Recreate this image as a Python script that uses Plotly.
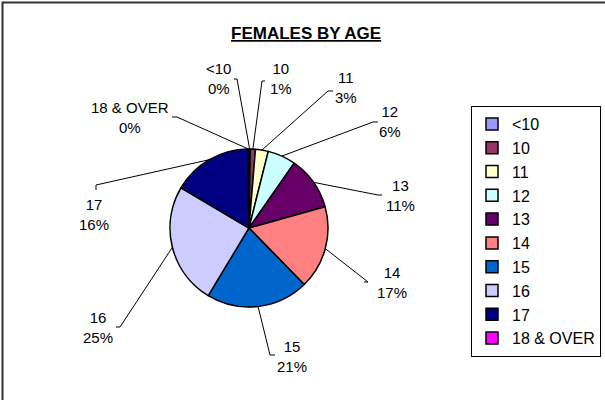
import math
import plotly.graph_objects as go

# ---- data ----
categories = ["<10", "10", "11", "12", "13", "14", "15", "16", "17", "18 & OVER"]
counts = [1, 4, 10, 22, 42, 65, 80, 95, 62, 1]
colors = ["#9999FF", "#993366", "#FFFFCC", "#CCFFFF", "#660066",
          "#FF8080", "#0066CC", "#CCCCFF", "#000080", "#FF00FF"]
title_text = "FEMALES BY AGE"

# ---- layout (pixels) ----
W, H = 605, 400
CX, CY, R = 249, 228, 79
FONT = "Liberation Sans, Arial, sans-serif"

# label text centers and leader elbow / tick points (pixels)
label_pos = [(218, 78), (281, 78), (346, 88), (390, 121), (400, 195),
             (392, 282), (292, 356), (98, 327), (94, 214), (130, 117)]
elbows = [((237, 79), (234, 79)), ((262, 81), (265, 81)), ((328, 91), (333, 91)),
          ((373, 122), (378, 122)), ((378, 195), (382, 195)), ((368, 282), (364, 282)),
          ((270, 355), (275, 355)), ((120, 327), (116, 327)), ((96, 185), (96, 190)),
          ((177, 117), (172, 117))]


def px(x):
    return x / W


def py(y):
    return 1 - y / H


fig = go.Figure()
fig.add_trace(go.Pie(
    labels=categories, values=counts, sort=False, direction="clockwise", rotation=0,
    marker=dict(colors=colors, line=dict(color="black", width=1.5)),
    textinfo="none", hoverinfo="label+percent",
    domain=dict(x=[px(CX - R), px(CX + R)], y=[py(CY + R), py(CY - R)]),
))

total = sum(counts)
shapes = []
annotations = []
cum = 0
for i, (cat, v) in enumerate(zip(categories, counts)):
    mid = (cum + v / 2) / total
    cum += v
    ang = 2 * math.pi * mid
    tx = CX + R * math.sin(ang)
    ty = CY - R * math.cos(ang)
    (ex, ey), (kx, ky) = elbows[i]
    path = f"M {px(tx)} {py(ty)} L {px(ex)} {py(ey)} L {px(kx)} {py(ky)}"
    shapes.append(dict(type="path", xref="paper", yref="paper", path=path,
                       line=dict(color="black", width=1)))
    pct = round(100 * v / total)
    lx, ly = label_pos[i]
    annotations.append(dict(x=px(lx), y=py(ly), xref="paper", yref="paper",
                            text=f"{cat}<br>{pct}%", showarrow=False,
                            font=dict(family=FONT, size=15, color="black"),
                            align="center", xanchor="center", yanchor="middle"))

annotations.append(dict(x=px(306), y=py(34), xref="paper", yref="paper",
                        text=f"<b><u>{title_text}</u></b>", showarrow=False,
                        font=dict(family=FONT, size=17, color="black"),
                        xanchor="center", yanchor="middle"))

# outer chart frame
shapes.append(dict(type="rect", xref="paper", yref="paper",
                   x0=px(2.5), y0=-0.5, x1=1.5, y1=py(2.5),
                   line=dict(color="#333333", width=2)))

fig.update_layout(
    width=W, height=H, autosize=False,
    margin=dict(l=0, r=0, t=0, b=0, pad=0),
    paper_bgcolor="white", plot_bgcolor="white",
    showlegend=True,
    legend=dict(x=px(601), y=py(106), xanchor="right", yanchor="top",
                bgcolor="white", bordercolor="black", borderwidth=1,
                font=dict(family=FONT, size=16, color="black"),
                traceorder="normal"),
    shapes=shapes, annotations=annotations,
)

fig.write_html("out.html", config={"displayModeBar": False},
               post_script="document.body.style.margin='0';document.body.style.overflow='hidden';")
